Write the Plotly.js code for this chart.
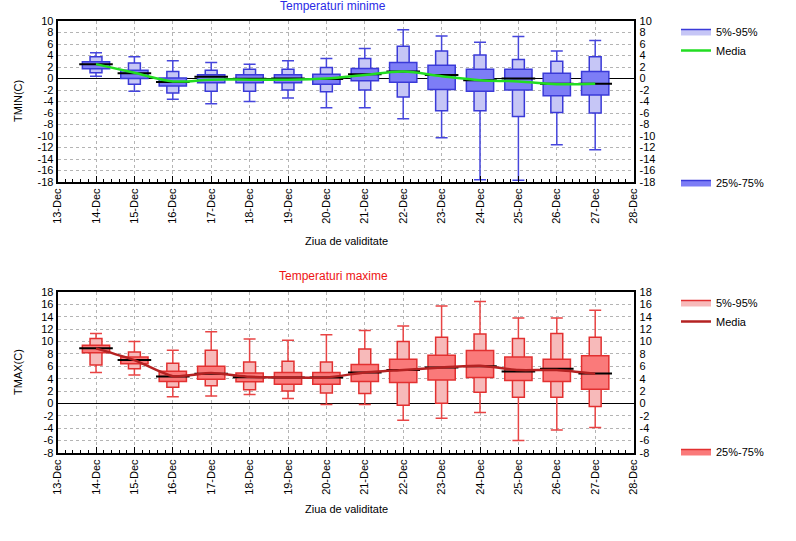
<!DOCTYPE html>
<html>
<head>
<meta charset="utf-8">
<script src="https://cdn.plot.ly/plotly-3.0.1.min.js"></script>
<style>html,body{margin:0;padding:0;background:#fff;}#chart{width:796px;height:541px;}</style>
</head>
<body>
<div id="chart"></div>
<script>
// Tick labels and day positions
const dayLabels = ['13-Dec','14-Dec','15-Dec','16-Dec','17-Dec','18-Dec','19-Dec','20-Dec','21-Dec','22-Dec','23-Dec','24-Dec','25-Dec','26-Dec','27-Dec','28-Dec'];
const dayPos = [1,2,3,4,5,6,7,8,9,10,11,12,13,14];
const tminTicks = [10,8,6,4,2,0,-2,-4,-6,-8,-10,-12,-14,-16,-18];
const tmaxTicks = [18,16,14,12,10,8,6,4,2,0,-2,-4,-6,-8];

// Minimum temperatures (TMIN)
const tminMax  = [4.5, 3.8, 3.1, 2.8, 2.5, 3.1, 3.5, 5.2, 8.5, 7.4, 6.3, 7.3, 4.8, 6.6];
const tminP95  = [3.8, 2.7, 1.2, 1.45, 1.6, 1.6, 1.9, 3.5, 5.6, 4.8, 4.1, 3.3, 3.0, 3.8];
const tminP75  = [2.9, 1.45, 0.1, 0.64, 0.64, 0.64, 0.75, 1.75, 2.8, 2.3, 1.6, 1.6, 0.9, 1.2];
const tminMed  = [2.5, 0.9, -0.6, 0.3, -0.05, 0.0, -0.1, 0.75, 1.2, 0.6, -0.3, 0.0, -0.9, -0.9];
const tminP25  = [1.7, 0.0, -1.3, -0.75, -0.75, -0.75, -1.0, -0.4, -0.65, -1.9, -2.2, -2.0, -3.0, -2.85];
const tminP5   = [1.0, -1.0, -2.5, -2.2, -2.2, -2.0, -2.3, -2.0, -3.2, -5.6, -5.6, -6.6, -5.9, -6.0];
const tminMin  = [0.4, -2.2, -3.6, -4.4, -4.0, -3.4, -5.1, -5.1, -7.0, -10.3, -17.6, -17.7, -11.5, -12.4];
const tminMean = [2.5, 1.0, -0.5, -0.2, -0.2, -0.2, 0.0, 0.6, 1.2, 0.4, -0.3, -0.5, -1.0, -0.9];

// Maximum temperatures (TMAX)
const tmaxMax  = [11.3, 10.0, 8.6, 11.6, 10.4, 10.2, 11.1, 11.8, 12.5, 15.75, 16.45, 13.8, 13.8, 15.05];
const tmaxP95  = [10.5, 8.3, 6.5, 8.6, 6.7, 6.8, 6.7, 8.8, 10.0, 10.7, 11.2, 10.5, 11.3, 10.7];
const tmaxP75  = [9.4, 7.5, 5.2, 6.0, 4.9, 5.0, 5.0, 6.3, 7.15, 7.8, 8.55, 7.5, 7.15, 7.7];
const tmaxMed  = [8.9, 7.0, 4.35, 4.8, 4.25, 4.2, 4.2, 5.0, 5.4, 5.8, 6.0, 5.15, 5.6, 4.85];
const tmaxP25  = [8.2, 6.4, 3.55, 3.9, 3.5, 3.1, 3.1, 3.55, 3.4, 3.8, 4.2, 3.7, 3.55, 2.3];
const tmaxP5   = [6.2, 5.6, 2.6, 2.85, 2.2, 2.0, 1.7, 1.6, -0.3, 0.05, 1.8, 1.0, 1.0, -0.5];
const tmaxMin  = [5.0, 4.6, 1.1, 1.2, 1.45, 0.8, -0.15, -0.15, -2.7, -2.4, -1.45, -6.0, -4.3, -3.9];
const tmaxMean = [8.9, 7.0, 4.4, 4.9, 4.3, 4.2, 4.2, 5.0, 5.4, 5.8, 6.1, 5.4, 5.4, 4.8];

const FONT = 'Liberation Sans, Arial, sans-serif';
const sub = (a, b) => a.map((v, i) => v - b[i]);

function boxTraces(xa, ya, ya2, d, col, legA, legB) {
  const tr = [];
  // whiskers (min..max) with caps, hidden behind the boxes
  tr.push({type:'bar', x:dayPos, base:d.p5, y:sub(d.p95, d.p5), width:0.31,
    xaxis:xa, yaxis:ya, marker:{color:'rgba(0,0,0,0)', line:{width:0}}, showlegend:false, hoverinfo:'skip',
    error_y:{type:'data', symmetric:false, array:sub(d.max, d.p95), arrayminus:sub(d.p95, d.min), color:col.wh, thickness:1.5, width:6}});
  // 5%-95% box
  tr.push({type:'bar', x:dayPos, base:d.p5, y:sub(d.p95, d.p5), width:0.31, xaxis:xa, yaxis:ya,
    marker:{color:col.light, line:{color:col.edge, width:1.5}}, showlegend:false, hoverinfo:'skip'});
  // 25%-75% box
  tr.push({type:'bar', x:dayPos, base:d.p25, y:sub(d.p75, d.p25), width:0.71, xaxis:xa, yaxis:ya,
    marker:{color:col.dark, line:{color:col.edge, width:1.5}}, showlegend:false, hoverinfo:'skip'});
  // median
  tr.push({type:'scatter', mode:'markers', x:dayPos, y:d.med, xaxis:xa, yaxis:ya,
    marker:{symbol:'line-ew', size:24, line:{color:'#000', width:2}}, showlegend:false, hoverinfo:'skip'});
  // mean line (on the mirrored right axis)
  tr.push({type:'scatter', mode:'lines', x:dayPos, y:d.mean, xaxis:xa, yaxis:ya2,
    line:{color:col.mean, width:2.5, shape:'spline', smoothing:col.smooth}, showlegend:false, hoverinfo:'skip'});
  // legend entries
  tr.push({type:'scatter', mode:'lines', x:[null], y:[null], xaxis:xa, yaxis:ya, fill:'toself', fillcolor:col.light,
    line:{color:col.edge, width:1.5}, name:'5%-95%', legend:legA, hoverinfo:'skip'});
  tr.push({type:'scatter', mode:'lines', x:[null], y:[null], xaxis:xa, yaxis:ya,
    line:{color:col.mean, width:2.5}, name:'Media', legend:legA, hoverinfo:'skip'});
  tr.push({type:'scatter', mode:'lines', x:[null], y:[null], xaxis:xa, yaxis:ya, fill:'toself', fillcolor:col.dark,
    line:{color:col.edge, width:1.5}, name:'25%-75%', legend:legB, hoverinfo:'skip'});
  return tr;
}

const blue = {light:'#c6c6f6', dark:'#7d7df6', edge:'#3a3ad8', wh:'#4646dc', mean:'#22dd22', smooth:1};
const red  = {light:'#f7baba', dark:'#fa7a7a', edge:'#e23030', wh:'#e84444', mean:'#b42222', smooth:0.6};

const data = [].concat(
  boxTraces('x', 'y', 'y3', {max:tminMax, p95:tminP95, p75:tminP75, med:tminMed, p25:tminP25, p5:tminP5, min:tminMin, mean:tminMean}, blue, 'legend', 'legend2'),
  boxTraces('x2', 'y2', 'y4', {max:tmaxMax, p95:tmaxP95, p75:tmaxP75, med:tmaxMed, p25:tmaxP25, p5:tmaxP5, min:tmaxMin, mean:tmaxMean}, red, 'legend3', 'legend4')
);

const xDom = [57.6/796, 633.6/796];
const topDom = [1-182/541, 1-21/541];
const botDom = [1-453/541, 1-292/541];
const tickF = {family:FONT, size:11, color:'#000'};
const GRID = '#b4b4b4';

function xAxis(anchor) {
  return {domain:xDom, anchor:anchor, range:[0,15], tickmode:'array', tickvals:dayLabels.map((_,i)=>i), ticktext:dayLabels,
    tickangle:-90, ticks:'inside', ticklen:6, tickcolor:'#000', tickwidth:1, tickfont:tickF,
    showgrid:true, gridcolor:GRID, griddash:'dot', gridwidth:1, zeroline:false,
    showline:true, linecolor:'#000', linewidth:2, mirror:true, automargin:false, fixedrange:true,
    minor:{tickmode:'linear', tick0:0, dtick:0.2, ticks:'inside', ticklen:3, tickcolor:'#000', showgrid:false}};
}
function yAxis(anchor, dom, rng, tv) {
  return {domain:dom, anchor:anchor, range:rng, tickmode:'array', tickvals:tv, ticktext:tv.map(String), ticks:'', tickfont:tickF,
    showgrid:true, gridcolor:GRID, griddash:'dot', gridwidth:1,
    zeroline:true, zerolinecolor:'#000', zerolinewidth:1.5,
    showline:true, linecolor:'#000', linewidth:2, mirror:true, automargin:false, fixedrange:true};
}
function yRight(over, rng, tv) {
  return {overlaying:over, side:'right', anchor:over === 'y' ? 'x' : 'x2', range:rng, tickmode:'array', tickvals:tv, ticktext:tv.map(String),
    ticks:'', ticklabelstandoff:5, tickfont:tickF, showgrid:false, zeroline:false, showline:false, automargin:false, fixedrange:true};
}
const legBase = {xanchor:'left', yanchor:'top', x:676/796, bgcolor:'rgba(0,0,0,0)', borderwidth:0,
  font:{family:FONT, size:11, color:'#000'}, itemwidth:30, tracegroupgap:0, itemclick:false};

const layout = {
  width:796, height:541, margin:{l:0, r:0, t:0, b:0}, paper_bgcolor:'#fff', plot_bgcolor:'#fff',
  barmode:'overlay', font:{family:FONT, size:11, color:'#000'},
  xaxis:xAxis('y'), yaxis:yAxis('x', topDom, [-18,10], tminTicks), yaxis3:yRight('y', [-18,10], tminTicks),
  xaxis2:xAxis('y2'), yaxis2:yAxis('x2', botDom, [-8,18], tmaxTicks), yaxis4:yRight('y2', [-8,18], tmaxTicks),
  legend:Object.assign({}, legBase, {y:1-17/541}),
  legend2:Object.assign({}, legBase, {y:1-168/541}),
  legend3:Object.assign({}, legBase, {y:1-288/541}),
  legend4:Object.assign({}, legBase, {y:1-437/541}),
  annotations:[
    {text:'Temperaturi minime', xref:'paper', yref:'paper', x:333/796, y:1-6/541, showarrow:false, xanchor:'center', yanchor:'middle', font:{family:FONT, size:12, color:'#2a2ae6'}},
    {text:'Temperaturi maxime', xref:'paper', yref:'paper', x:333/796, y:1-276/541, showarrow:false, xanchor:'center', yanchor:'middle', font:{family:FONT, size:12, color:'#ee1414'}},
    {text:'TMIN(C)', xref:'paper', yref:'paper', x:18/796, y:1-101/541, textangle:-90, showarrow:false, xanchor:'center', yanchor:'middle', font:{family:FONT, size:11, color:'#000'}},
    {text:'TMAX(C)', xref:'paper', yref:'paper', x:18/796, y:1-372/541, textangle:-90, showarrow:false, xanchor:'center', yanchor:'middle', font:{family:FONT, size:11, color:'#000'}},
    {text:'Ziua de validitate', xref:'paper', yref:'paper', x:346/796, y:1-241/541, showarrow:false, xanchor:'center', yanchor:'middle', font:{family:FONT, size:11, color:'#000'}},
    {text:'Ziua de validitate', xref:'paper', yref:'paper', x:346/796, y:1-509/541, showarrow:false, xanchor:'center', yanchor:'middle', font:{family:FONT, size:11, color:'#000'}}
  ]
};

Plotly.newPlot('chart', data, layout, {displayModeBar:false, staticPlot:true});
</script>
</body>
</html>
